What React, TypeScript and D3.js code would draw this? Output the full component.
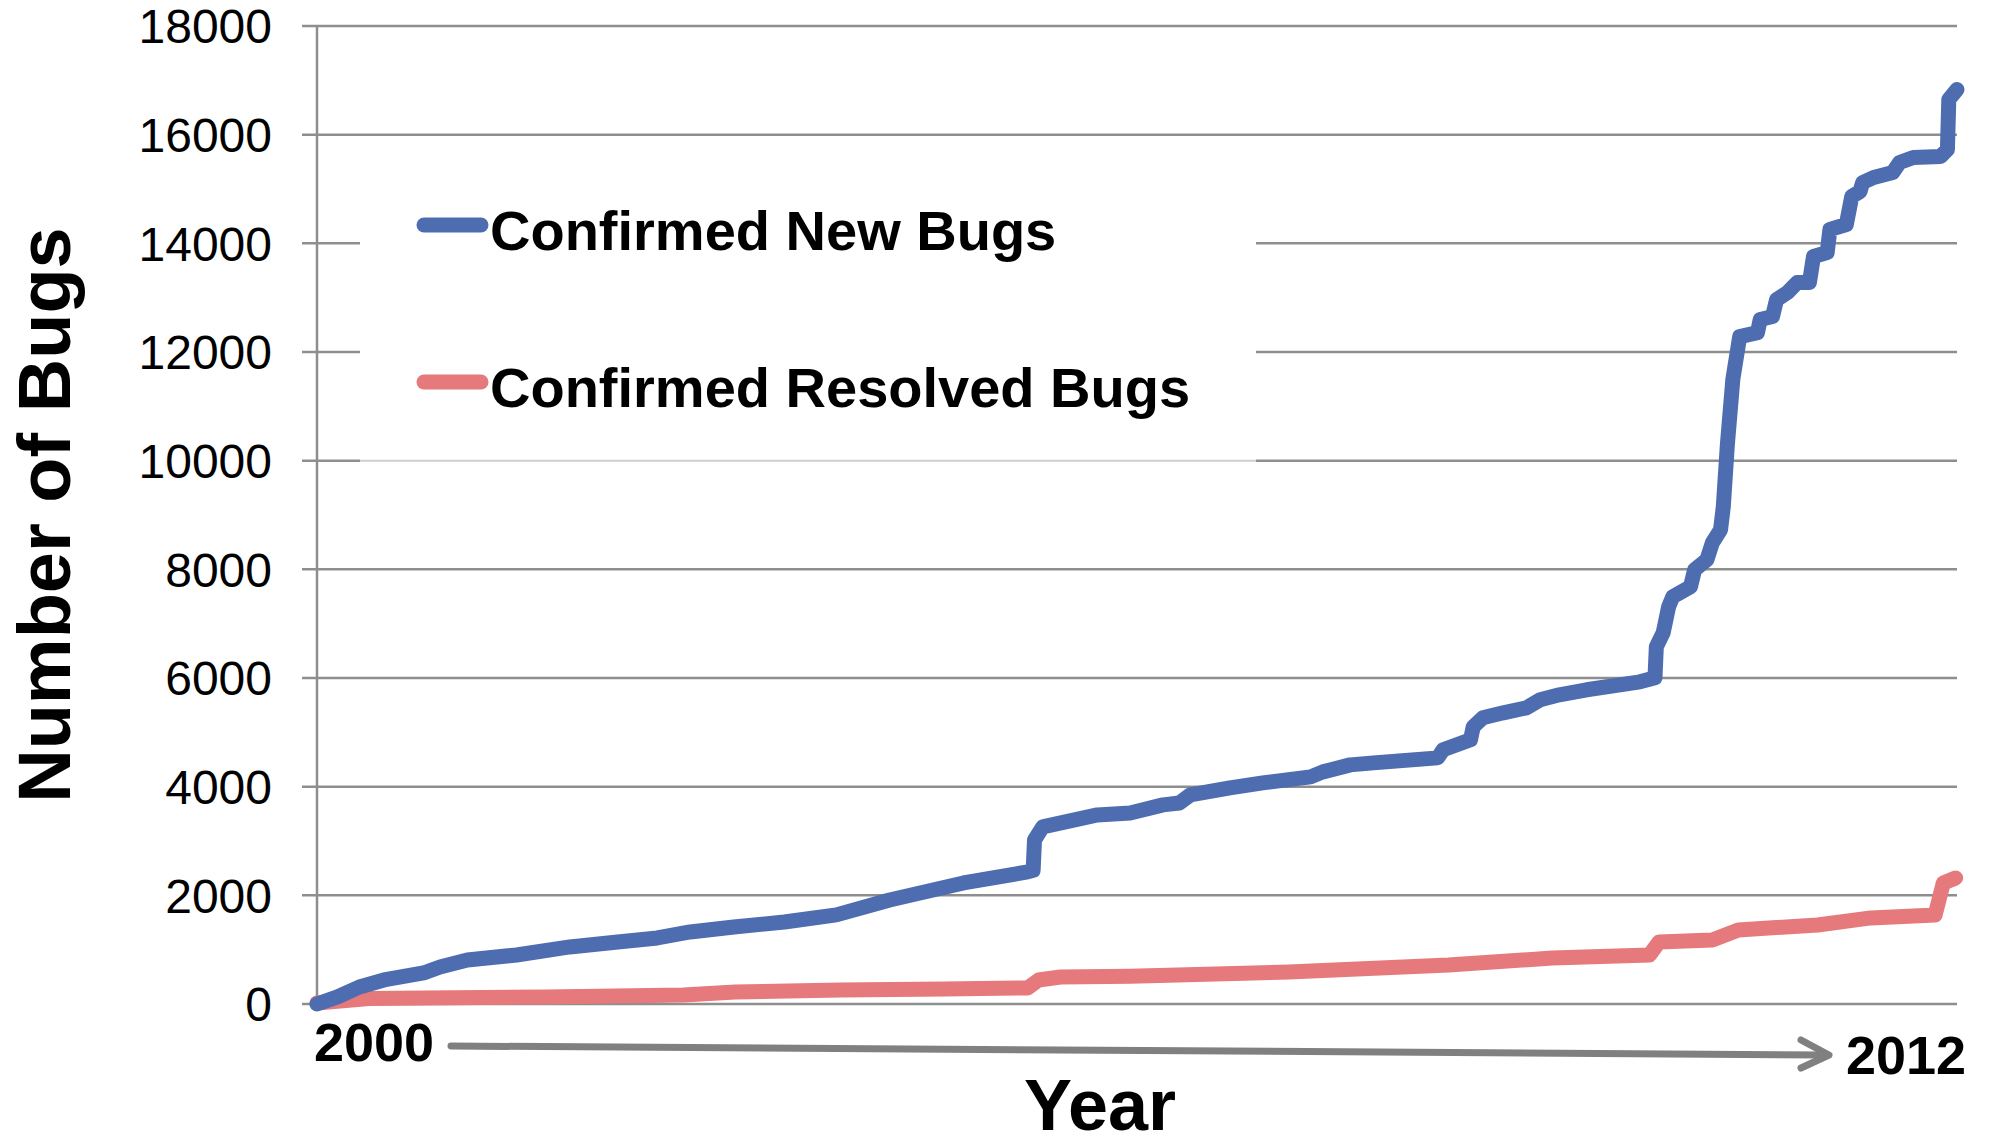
import * as d3 from "d3";

// cumulative bug counts (x = fractional year)
const newYears = [
    2000.0, 2000.15, 2000.31, 2000.49, 2000.78, 2000.9, 2001.1, 2001.46, 2001.85, 2002.2,
    2002.49, 2002.73, 2003.05, 2003.42, 2003.8, 2004.19, 2004.73, 2005.2, 2005.24, 2005.25,
    2005.31, 2005.71, 2005.95, 2006.19, 2006.31, 2006.39, 2006.68, 2006.92, 2007.27, 2007.36,
    2007.56, 2007.73, 2008.2, 2008.24, 2008.44, 2008.46, 2008.53, 2008.68, 2008.85, 2008.95,
    2009.09, 2009.29, 2009.68, 2009.79, 2009.8, 2009.85, 2009.89, 2009.92, 2010.05, 2010.08,
    2010.17, 2010.21, 2010.27, 2010.29, 2010.32, 2010.36, 2010.41, 2010.54, 2010.56, 2010.65,
    2010.68, 2010.76, 2010.83, 2010.92, 2010.95, 2011.05, 2011.07, 2011.19, 2011.23, 2011.29,
    2011.31, 2011.39, 2011.53, 2011.58, 2011.68, 2011.88, 2011.93, 2011.94, 2012.0,
];
const newBugs = [
    0, 130, 313, 442, 571, 681, 810, 902, 1050, 1142,
    1215, 1326, 1418, 1510, 1640, 1915, 2228, 2431, 2460, 3020,
    3260, 3480, 3517, 3665, 3700, 3849, 3978, 4070, 4180, 4272,
    4401, 4438, 4530, 4678, 4862, 5100, 5267, 5359, 5451, 5600,
    5690, 5783, 5930, 6004, 6575, 6832, 7311, 7495, 7680, 7993,
    8177, 8490, 8729, 9153, 10300, 11500, 12283, 12357, 12597, 12652,
    12965, 13094, 13278, 13278, 13757, 13831, 14254, 14346, 14862, 14954,
    15120, 15212, 15304, 15488, 15580, 15600, 15727, 16648, 16832,
];

const resolvedYears = [
    2000.0, 2000.38, 2001.68, 2002.68, 2003.06, 2003.83, 2004.59, 2005.2, 2005.28, 2005.44,
    2005.95, 2007.11, 2008.28, 2009.04, 2009.75, 2009.82, 2010.21, 2010.4, 2010.98, 2011.37,
    2011.84, 2011.9, 2011.99,
];
const resolvedBugs = [
    20, 100, 130, 165, 220, 258, 276, 295, 442, 497,
    510, 590, 718, 847, 902, 1142, 1179, 1363, 1455, 1584,
    1640, 2228, 2320,
];

const yTicks = [0, 2000, 4000, 6000, 8000, 10000, 12000, 14000, 16000, 18000];
const seriesNames = ["Confirmed New Bugs", "Confirmed Resolved Bugs"];
const seriesColors = ["#4e6cb0", "#e5797b"];

const width = 1993,
    height = 1148;
const left = 317,
    right = 1957,
    top = 26,
    bottom = 1004;
const font = "'Liberation Sans', Arial, sans-serif";
const gridColor = "#8e8e8e";

export default function App() {
    const x = d3.scaleLinear().domain([2000, 2012]).range([left, right]);
    const y = d3.scaleLinear().domain([0, 18000]).range([bottom, top]);

    const line = d3
        .line<[number, number]>()
        .x((d) => x(d[0]))
        .y((d) => y(d[1]));

    const newPath = line(newYears.map((v, i) => [v, newBugs[i]]));
    const resolvedPath = line(resolvedYears.map((v, i) => [v, resolvedBugs[i]]));

    return (
        <svg
            width={width}
            height={height}
            style={{ position: "absolute", left: 0, top: 0, background: "#fff" }}
            fontFamily={font}
        >
            {/* gridlines + ticks */}
            {yTicks.map((t) => (
                <g key={t}>
                    <line x1={left - 15} x2={right} y1={y(t)} y2={y(t)} stroke={gridColor} strokeWidth={2.5} />
                    <text x={272} y={y(t)} dy="0.36em" textAnchor="end" fontSize={48} fill="#000">
                        {t}
                    </text>
                </g>
            ))}
            <line x1={left} x2={left} y1={top} y2={bottom} stroke={gridColor} strokeWidth={2.5} />

            {/* legend box */}
            <rect x={360} y={150} width={896} height={312} fill="#fff" />
            <line x1={360} x2={1256} y1={y(10000)} y2={y(10000)} stroke="#cfcfcf" strokeWidth={2} />
            {seriesNames.map((name, i) => (
                <g key={name}>
                    <line
                        x1={424}
                        x2={481}
                        y1={[225, 382][i]}
                        y2={[225, 382][i]}
                        stroke={seriesColors[i]}
                        strokeWidth={15}
                        strokeLinecap="round"
                    />
                    <text x={490} y={[250, 407][i]} fontSize={56} fontWeight="bold" fill="#000">
                        {name}
                    </text>
                </g>
            ))}

            {/* series */}
            <path d={resolvedPath ?? ""} fill="none" stroke={seriesColors[1]} strokeWidth={15} strokeLinejoin="round" strokeLinecap="round" />
            <path d={newPath ?? ""} fill="none" stroke={seriesColors[0]} strokeWidth={15} strokeLinejoin="round" strokeLinecap="round" />

            {/* axis titles */}
            <text
                transform="translate(70, 515) rotate(-90)"
                textAnchor="middle"
                fontSize={74}
                fontWeight="bold"
                fill="#000"
            >
                Number of Bugs
            </text>
            <text x={1100} y={1130} textAnchor="middle" fontSize={72} fontWeight="bold" fill="#000">
                Year
            </text>

            {/* time arrow */}
            <text x={314} y={1061} fontSize={54} fontWeight="bold" fill="#000">
                2000
            </text>
            <text x={1846} y={1074} fontSize={54} fontWeight="bold" fill="#000">
                2012
            </text>
            <g stroke="#808080" strokeWidth={7} strokeLinecap="round" strokeLinejoin="round" fill="none">
                <line x1={451} y1={1046} x2={1826} y2={1055} />
                <polyline points="1801,1040 1829,1055 1801,1068" />
            </g>
        </svg>
    );
}
